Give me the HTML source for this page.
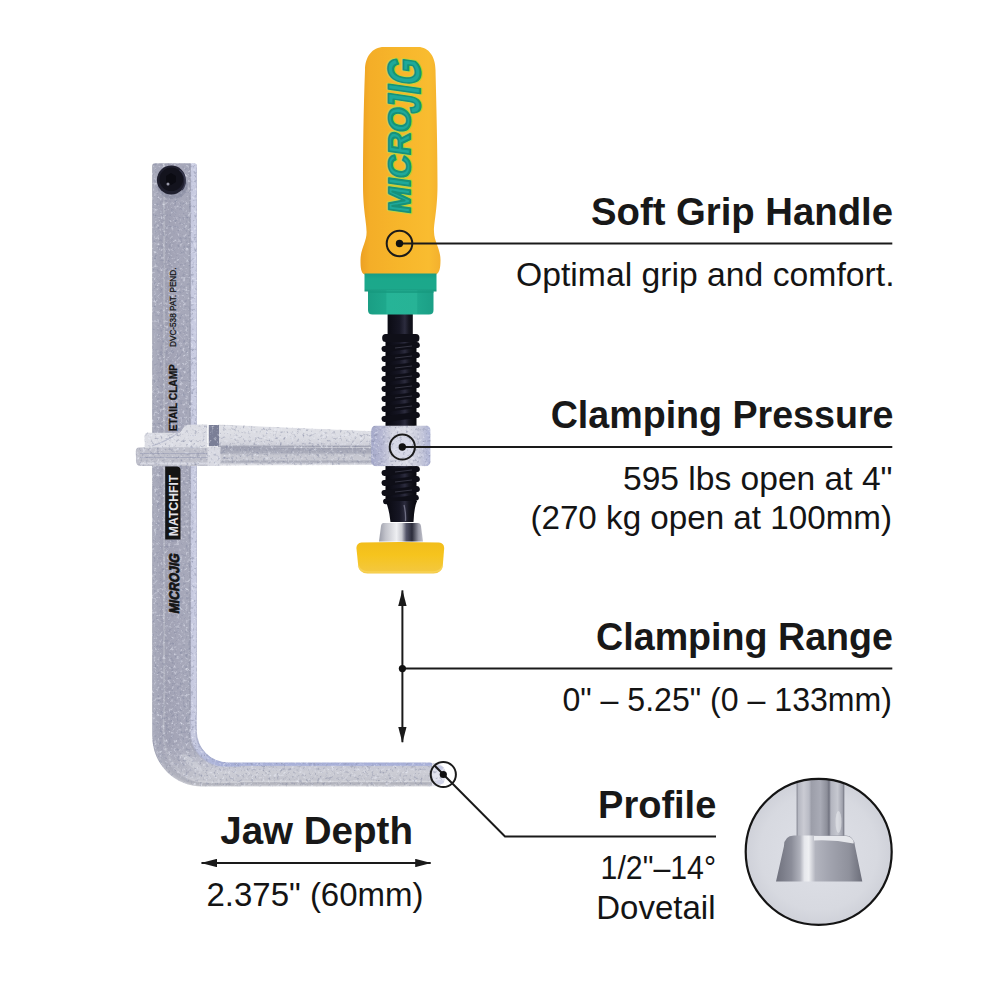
<!DOCTYPE html>
<html><head><meta charset="utf-8">
<style>
html,body{margin:0;padding:0;background:#fff;width:1000px;height:1000px;overflow:hidden}
svg{display:block}
.h{font-family:"Liberation Sans",sans-serif;font-weight:700;font-size:38px;fill:#181818}
.b{font-family:"Liberation Sans",sans-serif;font-weight:400;font-size:33px;fill:#141414}
</style></head><body>
<svg width="1000" height="1000" viewBox="0 0 1000 1000">
<defs>
  <filter id="spk" x="0" y="0" width="100%" height="100%" color-interpolation-filters="sRGB">
    <feTurbulence type="fractalNoise" baseFrequency="0.35" numOctaves="3" seed="7" result="n"/>
    <feColorMatrix in="n" type="matrix" values="0 0 0 0 0.93  0 0 0 0 0.94  0 0 0 0 0.98  2.0 0 0 0 -1.12" result="w"/>
    <feColorMatrix in="n" type="matrix" values="0 0 0 0 0.50  0 0 0 0 0.52  0 0 0 0 0.62  0 1.8 0 0 -1.0" result="d"/>
    <feMerge result="m"><feMergeNode in="SourceGraphic"/><feMergeNode in="w"/><feMergeNode in="d"/></feMerge>
    <feComposite in="m" in2="SourceGraphic" operator="in"/>
  </filter>
  <filter id="spk2" x="0" y="0" width="100%" height="100%" color-interpolation-filters="sRGB">
    <feTurbulence type="fractalNoise" baseFrequency="0.5" numOctaves="2" seed="11" result="n"/>
    <feColorMatrix in="n" type="matrix" values="0 0 0 0 0.95  0 0 0 0 0.95  0 0 0 0 0.97  1.2 0 0 0 -0.68" result="w"/>
    <feColorMatrix in="n" type="matrix" values="0 0 0 0 0.40  0 0 0 0 0.41  0 0 0 0 0.46  0 1.2 0 0 -0.68" result="d"/>
    <feMerge result="m"><feMergeNode in="SourceGraphic"/><feMergeNode in="w"/><feMergeNode in="d"/></feMerge>
    <feComposite in="m" in2="SourceGraphic" operator="in"/>
  </filter>
  <linearGradient id="barG" x1="152.3" y1="0" x2="196.8" y2="0" gradientUnits="userSpaceOnUse"><stop offset="0.0" stop-color="#8c8ea0"/><stop offset="0.03" stop-color="#acaebe"/><stop offset="0.1" stop-color="#a7a9ba"/><stop offset="0.23" stop-color="#a1a2b4"/><stop offset="0.265" stop-color="#b8bac6"/><stop offset="0.3" stop-color="#a0a1b3"/><stop offset="0.6" stop-color="#a6a7b9"/><stop offset="0.82" stop-color="#a7a9ba"/><stop offset="0.85" stop-color="#9698ab"/><stop offset="0.88" stop-color="#c6c9df"/><stop offset="0.97" stop-color="#cbcee3"/><stop offset="1.0" stop-color="#a4a8c4"/></linearGradient>
  <linearGradient id="jawG" x1="0" y1="762.5" x2="0" y2="786.5" gradientUnits="userSpaceOnUse"><stop offset="0.000" stop-color="#a5add6"/><stop offset="0.120" stop-color="#abb3da"/><stop offset="0.160" stop-color="#c6c7d3"/><stop offset="0.400" stop-color="#cccdd5"/><stop offset="0.730" stop-color="#c4c5ce"/><stop offset="0.790" stop-color="#d3d4da"/><stop offset="0.850" stop-color="#afb0ba"/><stop offset="0.920" stop-color="#babbc3"/><stop offset="1.000" stop-color="#d9d9de"/></linearGradient>
  <linearGradient id="bd0" gradientUnits="userSpaceOnUse" x1="152.86" y1="736.43" x2="202.62" y2="786.20"><stop offset="0.1" stop-color="#999bac"/><stop offset="0.9" stop-color="#d4d4da"/></linearGradient>
<linearGradient id="bd1" gradientUnits="userSpaceOnUse" x1="153.97" y1="736.29" x2="203.28" y2="785.60"><stop offset="0.1" stop-color="#abadbe"/><stop offset="0.9" stop-color="#cacbd1"/></linearGradient>
<linearGradient id="bd2" gradientUnits="userSpaceOnUse" x1="155.08" y1="736.16" x2="203.93" y2="785.00"><stop offset="0.1" stop-color="#aaacbc"/><stop offset="0.9" stop-color="#c1c2c9"/></linearGradient>
<linearGradient id="bd3" gradientUnits="userSpaceOnUse" x1="156.19" y1="736.02" x2="204.58" y2="784.40"><stop offset="0.1" stop-color="#a8aabb"/><stop offset="0.9" stop-color="#b9bac2"/></linearGradient>
<linearGradient id="bd4" gradientUnits="userSpaceOnUse" x1="157.31" y1="735.88" x2="205.23" y2="783.80"><stop offset="0.1" stop-color="#a6a8b9"/><stop offset="0.9" stop-color="#b5b6bf"/></linearGradient>
<linearGradient id="bd5" gradientUnits="userSpaceOnUse" x1="158.42" y1="735.74" x2="205.88" y2="783.20"><stop offset="0.1" stop-color="#a5a7b8"/><stop offset="0.9" stop-color="#b1b2bc"/></linearGradient>
<linearGradient id="bd6" gradientUnits="userSpaceOnUse" x1="159.53" y1="735.61" x2="206.53" y2="782.60"><stop offset="0.1" stop-color="#a4a6b7"/><stop offset="0.9" stop-color="#b6b8c1"/></linearGradient>
<linearGradient id="bd7" gradientUnits="userSpaceOnUse" x1="160.64" y1="735.47" x2="207.18" y2="782.00"><stop offset="0.1" stop-color="#a3a4b6"/><stop offset="0.9" stop-color="#c6c6ce"/></linearGradient>
<linearGradient id="bd8" gradientUnits="userSpaceOnUse" x1="161.76" y1="735.33" x2="207.83" y2="781.40"><stop offset="0.1" stop-color="#a2a3b5"/><stop offset="0.9" stop-color="#d2d3da"/></linearGradient>
<linearGradient id="bd9" gradientUnits="userSpaceOnUse" x1="162.87" y1="735.19" x2="208.48" y2="780.80"><stop offset="0.1" stop-color="#a6a7b8"/><stop offset="0.9" stop-color="#cccdd4"/></linearGradient>
<linearGradient id="bd10" gradientUnits="userSpaceOnUse" x1="163.98" y1="735.06" x2="209.12" y2="780.20"><stop offset="0.1" stop-color="#b6b8c5"/><stop offset="0.9" stop-color="#c6c7d0"/></linearGradient>
<linearGradient id="bd11" gradientUnits="userSpaceOnUse" x1="165.09" y1="734.92" x2="209.78" y2="779.60"><stop offset="0.1" stop-color="#a9aaba"/><stop offset="0.9" stop-color="#c4c5ce"/></linearGradient>
<linearGradient id="bd12" gradientUnits="userSpaceOnUse" x1="166.21" y1="734.78" x2="210.43" y2="779.00"><stop offset="0.1" stop-color="#a0a1b3"/><stop offset="0.9" stop-color="#c5c6cf"/></linearGradient>
<linearGradient id="bd13" gradientUnits="userSpaceOnUse" x1="167.32" y1="734.64" x2="211.08" y2="778.40"><stop offset="0.1" stop-color="#a1a2b4"/><stop offset="0.9" stop-color="#c6c7cf"/></linearGradient>
<linearGradient id="bd14" gradientUnits="userSpaceOnUse" x1="168.43" y1="734.51" x2="211.73" y2="777.80"><stop offset="0.1" stop-color="#a1a2b4"/><stop offset="0.9" stop-color="#c6c7d0"/></linearGradient>
<linearGradient id="bd15" gradientUnits="userSpaceOnUse" x1="169.54" y1="734.37" x2="212.38" y2="777.20"><stop offset="0.1" stop-color="#a2a3b5"/><stop offset="0.9" stop-color="#c7c8d0"/></linearGradient>
<linearGradient id="bd16" gradientUnits="userSpaceOnUse" x1="170.66" y1="734.23" x2="213.03" y2="776.60"><stop offset="0.1" stop-color="#a2a3b5"/><stop offset="0.9" stop-color="#c7c8d1"/></linearGradient>
<linearGradient id="bd17" gradientUnits="userSpaceOnUse" x1="171.77" y1="734.09" x2="213.68" y2="776.00"><stop offset="0.1" stop-color="#a3a4b6"/><stop offset="0.9" stop-color="#c8c9d2"/></linearGradient>
<linearGradient id="bd18" gradientUnits="userSpaceOnUse" x1="172.88" y1="733.96" x2="214.33" y2="775.40"><stop offset="0.1" stop-color="#a3a4b6"/><stop offset="0.9" stop-color="#c9cad2"/></linearGradient>
<linearGradient id="bd19" gradientUnits="userSpaceOnUse" x1="173.99" y1="733.82" x2="214.98" y2="774.80"><stop offset="0.1" stop-color="#a4a5b7"/><stop offset="0.9" stop-color="#c9cad3"/></linearGradient>
<linearGradient id="bd20" gradientUnits="userSpaceOnUse" x1="175.11" y1="733.68" x2="215.62" y2="774.20"><stop offset="0.1" stop-color="#a4a5b7"/><stop offset="0.9" stop-color="#cacbd3"/></linearGradient>
<linearGradient id="bd21" gradientUnits="userSpaceOnUse" x1="176.22" y1="733.54" x2="216.28" y2="773.60"><stop offset="0.1" stop-color="#a5a6b8"/><stop offset="0.9" stop-color="#cacbd4"/></linearGradient>
<linearGradient id="bd22" gradientUnits="userSpaceOnUse" x1="177.33" y1="733.41" x2="216.93" y2="773.00"><stop offset="0.1" stop-color="#a5a6b8"/><stop offset="0.9" stop-color="#cbccd4"/></linearGradient>
<linearGradient id="bd23" gradientUnits="userSpaceOnUse" x1="178.44" y1="733.27" x2="217.58" y2="772.40"><stop offset="0.1" stop-color="#a6a7b9"/><stop offset="0.9" stop-color="#cccdd5"/></linearGradient>
<linearGradient id="bd24" gradientUnits="userSpaceOnUse" x1="179.56" y1="733.13" x2="218.23" y2="771.80"><stop offset="0.1" stop-color="#a6a7b9"/><stop offset="0.9" stop-color="#cccdd5"/></linearGradient>
<linearGradient id="bd25" gradientUnits="userSpaceOnUse" x1="180.67" y1="732.99" x2="218.88" y2="771.20"><stop offset="0.1" stop-color="#a6a7b9"/><stop offset="0.9" stop-color="#cbccd5"/></linearGradient>
<linearGradient id="bd26" gradientUnits="userSpaceOnUse" x1="181.78" y1="732.86" x2="219.53" y2="770.60"><stop offset="0.1" stop-color="#a6a8b9"/><stop offset="0.9" stop-color="#cacbd4"/></linearGradient>
<linearGradient id="bd27" gradientUnits="userSpaceOnUse" x1="182.89" y1="732.72" x2="220.18" y2="770.00"><stop offset="0.1" stop-color="#a6a8b9"/><stop offset="0.9" stop-color="#cacbd4"/></linearGradient>
<linearGradient id="bd28" gradientUnits="userSpaceOnUse" x1="184.01" y1="732.58" x2="220.83" y2="769.40"><stop offset="0.1" stop-color="#a7a8ba"/><stop offset="0.9" stop-color="#c9cad4"/></linearGradient>
<linearGradient id="bd29" gradientUnits="userSpaceOnUse" x1="185.12" y1="732.44" x2="221.48" y2="768.80"><stop offset="0.1" stop-color="#a7a8ba"/><stop offset="0.9" stop-color="#c9cad4"/></linearGradient>
<linearGradient id="bd30" gradientUnits="userSpaceOnUse" x1="186.23" y1="732.31" x2="222.12" y2="768.20"><stop offset="0.1" stop-color="#a7a8ba"/><stop offset="0.9" stop-color="#c8c9d4"/></linearGradient>
<linearGradient id="bd31" gradientUnits="userSpaceOnUse" x1="187.34" y1="732.17" x2="222.78" y2="767.60"><stop offset="0.1" stop-color="#a7a9ba"/><stop offset="0.9" stop-color="#c7c8d3"/></linearGradient>
<linearGradient id="bd32" gradientUnits="userSpaceOnUse" x1="188.46" y1="732.03" x2="223.43" y2="767.00"><stop offset="0.1" stop-color="#a7a9ba"/><stop offset="0.9" stop-color="#c7c8d3"/></linearGradient>
<linearGradient id="bd33" gradientUnits="userSpaceOnUse" x1="189.57" y1="731.89" x2="224.08" y2="766.40"><stop offset="0.1" stop-color="#9d9fb1"/><stop offset="0.9" stop-color="#c6c7d3"/></linearGradient>
<linearGradient id="bd34" gradientUnits="userSpaceOnUse" x1="190.68" y1="731.76" x2="224.73" y2="765.80"><stop offset="0.1" stop-color="#aaacc1"/><stop offset="0.9" stop-color="#b7bcd7"/></linearGradient>
<linearGradient id="bd35" gradientUnits="userSpaceOnUse" x1="191.79" y1="731.62" x2="225.38" y2="765.20"><stop offset="0.1" stop-color="#c6c9df"/><stop offset="0.9" stop-color="#abb3da"/></linearGradient>
<linearGradient id="bd36" gradientUnits="userSpaceOnUse" x1="192.91" y1="731.48" x2="226.03" y2="764.60"><stop offset="0.1" stop-color="#c8cbe0"/><stop offset="0.9" stop-color="#a9b1d9"/></linearGradient>
<linearGradient id="bd37" gradientUnits="userSpaceOnUse" x1="194.02" y1="731.34" x2="226.68" y2="764.00"><stop offset="0.1" stop-color="#c9cce2"/><stop offset="0.9" stop-color="#a8b0d8"/></linearGradient>
<linearGradient id="bd38" gradientUnits="userSpaceOnUse" x1="195.13" y1="731.21" x2="227.33" y2="763.40"><stop offset="0.1" stop-color="#cbcee3"/><stop offset="0.9" stop-color="#a7afd7"/></linearGradient>
<linearGradient id="bd39" gradientUnits="userSpaceOnUse" x1="196.24" y1="731.07" x2="227.97" y2="762.80"><stop offset="0.1" stop-color="#b4b8d1"/><stop offset="0.9" stop-color="#a6aed6"/></linearGradient>

  <linearGradient id="armTop" x1="0" y1="424" x2="0" y2="447" gradientUnits="userSpaceOnUse">
    <stop offset="0" stop-color="#c4c5cf"/>
    <stop offset="0.1" stop-color="#e0e1e7"/>
    <stop offset="0.6" stop-color="#dadbe2"/>
    <stop offset="0.9" stop-color="#cfd0d9"/>
    <stop offset="1" stop-color="#989aab"/>
  </linearGradient>
  <linearGradient id="armSide" x1="0" y1="447" x2="0" y2="466" gradientUnits="userSpaceOnUse">
    <stop offset="0" stop-color="#9ea0b0"/>
    <stop offset="0.3" stop-color="#abadbb"/>
    <stop offset="0.42" stop-color="#c6c7d0"/>
    <stop offset="0.68" stop-color="#c8c9d2"/>
    <stop offset="0.74" stop-color="#a9abb8"/>
    <stop offset="0.84" stop-color="#b9bbc6"/>
    <stop offset="0.9" stop-color="#dfe0e6"/>
    <stop offset="1" stop-color="#d2d3da"/>
  </linearGradient>
  <linearGradient id="bossG" x1="371" y1="0" x2="431" y2="0" gradientUnits="userSpaceOnUse">
    <stop offset="0" stop-color="#a5a9ca"/>
    <stop offset="0.2" stop-color="#b8bad3"/>
    <stop offset="0.35" stop-color="#d3d4e0"/>
    <stop offset="0.6" stop-color="#dbdce5"/>
    <stop offset="0.8" stop-color="#c9cbdb"/>
    <stop offset="1" stop-color="#adb2d4"/>
  </linearGradient>
  <linearGradient id="yelG" x1="360" y1="0" x2="441" y2="0" gradientUnits="userSpaceOnUse">
    <stop offset="0" stop-color="#eca023"/>
    <stop offset="0.12" stop-color="#f4ae28"/>
    <stop offset="0.5" stop-color="#f7b62b"/>
    <stop offset="0.85" stop-color="#f9bc30"/>
    <stop offset="1" stop-color="#f3b02e"/>
  </linearGradient>
  <linearGradient id="grnG" x1="0" y1="273.5" x2="0" y2="291.5" gradientUnits="userSpaceOnUse">
    <stop offset="0" stop-color="#189c84"/>
    <stop offset="0.3" stop-color="#1ba88b"/>
    <stop offset="0.85" stop-color="#1ca88b"/>
    <stop offset="1" stop-color="#168f77"/>
  </linearGradient>
  <linearGradient id="grn2G" x1="368" y1="0" x2="433.5" y2="0" gradientUnits="userSpaceOnUse">
    <stop offset="0" stop-color="#1a9e84"/>
    <stop offset="0.27" stop-color="#1ea88c"/>
    <stop offset="0.29" stop-color="#26b497"/>
    <stop offset="0.74" stop-color="#27b396"/>
    <stop offset="0.76" stop-color="#1fa88d"/>
    <stop offset="1" stop-color="#1b9f86"/>
  </linearGradient>
  <linearGradient id="blkG" x1="385" y1="0" x2="417" y2="0" gradientUnits="userSpaceOnUse">
    <stop offset="0" stop-color="#08080f"/>
    <stop offset="0.45" stop-color="#161624"/>
    <stop offset="0.62" stop-color="#2c2c3e"/>
    <stop offset="0.75" stop-color="#15151f"/>
    <stop offset="1" stop-color="#07070d"/>
  </linearGradient>
  <linearGradient id="capG" x1="379" y1="0" x2="423" y2="0" gradientUnits="userSpaceOnUse">
    <stop offset="0" stop-color="#9a9ca8"/>
    <stop offset="0.15" stop-color="#c2c3cb"/>
    <stop offset="0.4" stop-color="#eeeff2"/>
    <stop offset="0.52" stop-color="#c8c9d0"/>
    <stop offset="0.62" stop-color="#55566a"/>
    <stop offset="0.75" stop-color="#2b2c3a"/>
    <stop offset="0.9" stop-color="#9c9daa"/>
    <stop offset="1" stop-color="#c0c1ca"/>
  </linearGradient>
  <linearGradient id="padG" x1="0" y1="542" x2="0" y2="574" gradientUnits="userSpaceOnUse">
    <stop offset="0" stop-color="#f2bd1b"/>
    <stop offset="0.4" stop-color="#f6c41d"/>
    <stop offset="1" stop-color="#f3c843"/>
  </linearGradient>
  <radialGradient id="inG" cx="818.7" cy="851.8" r="73" gradientUnits="userSpaceOnUse">
    <stop offset="0" stop-color="#dfe1e8"/>
    <stop offset="0.8" stop-color="#d7d9e0"/>
    <stop offset="1" stop-color="#cfd1d9"/>
  </radialGradient>
  <linearGradient id="stemG" x1="796.6" y1="0" x2="844.3" y2="0" gradientUnits="userSpaceOnUse">
    <stop offset="0" stop-color="#7f818d"/>
    <stop offset="0.04" stop-color="#b5b7c1"/>
    <stop offset="0.15" stop-color="#cacbd3"/>
    <stop offset="0.26" stop-color="#b9bbc5"/>
    <stop offset="0.31" stop-color="#9c9ea9"/>
    <stop offset="0.5" stop-color="#a9abb6"/>
    <stop offset="0.64" stop-color="#8c8e99"/>
    <stop offset="0.68" stop-color="#6f717e"/>
    <stop offset="0.72" stop-color="#b3b5bf"/>
    <stop offset="0.86" stop-color="#c6c8d0"/>
    <stop offset="0.96" stop-color="#a0a2ad"/>
    <stop offset="1" stop-color="#6e707c"/>
  </linearGradient>
  <linearGradient id="baseG" x1="776" y1="0" x2="862" y2="0" gradientUnits="userSpaceOnUse">
    <stop offset="0" stop-color="#6f717d"/>
    <stop offset="0.18" stop-color="#8b8d99"/>
    <stop offset="0.28" stop-color="#b0b2bc"/>
    <stop offset="0.33" stop-color="#e6e7ec"/>
    <stop offset="0.38" stop-color="#eff0f3"/>
    <stop offset="0.46" stop-color="#b2b4be"/>
    <stop offset="0.62" stop-color="#a2a4af"/>
    <stop offset="0.85" stop-color="#8f919c"/>
    <stop offset="1" stop-color="#6c6e7a"/>
  </linearGradient>
  <clipPath id="inClip"><circle cx="818.7" cy="851.8" r="72.8"/></clipPath>
  <marker id="ah" viewBox="0 0 16 8.4" refX="15.5" refY="4.2" markerWidth="16" markerHeight="8.4" markerUnits="userSpaceOnUse" orient="auto-start-reverse">
    <path d="M0,0 L16,4.2 L0,8.4 z" fill="#1a1a1a"/>
  </marker>
</defs>

<!-- CLAMP_BODY -->
<clipPath id="Lclip"><path d="M152.3,166 Q152.3,163.3 155,163.3 L194.3,163.3 Q196.8,163.3 196.8,166 L196.8,731 A31.5,31.5 0 0 0 228.3,762.5 L430,762.5 Q434.5,763 434.5,768 L434.5,781.5 Q434.5,786.5 430,786.5 L202.5,786.5 A50,50 0 0 1 152.3,736.5 Z"/></clipPath>
<g clip-path="url(#Lclip)" filter="url(#spk)">
  <rect x="150" y="160" width="50" height="630" fill="#b4b6c0"/>
  <rect x="152" y="163" width="45" height="560" fill="url(#barG)"/>
  <rect x="236" y="762" width="200" height="26" fill="url(#jawG)"/>
<path d="M152.86,715 L152.86,736.43 A49.77,49.77 0 0 0 202.62,786.20 L240,786.20" stroke="url(#bd0)" stroke-width="2.11" fill="none"/>
<path d="M153.97,715 L153.97,736.29 A49.31,49.31 0 0 0 203.28,785.60 L240,785.60" stroke="url(#bd1)" stroke-width="2.11" fill="none"/>
<path d="M155.08,715 L155.08,736.16 A48.84,48.84 0 0 0 203.93,785.00 L240,785.00" stroke="url(#bd2)" stroke-width="2.11" fill="none"/>
<path d="M156.19,715 L156.19,736.02 A48.38,48.38 0 0 0 204.58,784.40 L240,784.40" stroke="url(#bd3)" stroke-width="2.11" fill="none"/>
<path d="M157.31,715 L157.31,735.88 A47.92,47.92 0 0 0 205.23,783.80 L240,783.80" stroke="url(#bd4)" stroke-width="2.11" fill="none"/>
<path d="M158.42,715 L158.42,735.74 A47.46,47.46 0 0 0 205.88,783.20 L240,783.20" stroke="url(#bd5)" stroke-width="2.11" fill="none"/>
<path d="M159.53,715 L159.53,735.61 A46.99,46.99 0 0 0 206.53,782.60 L240,782.60" stroke="url(#bd6)" stroke-width="2.11" fill="none"/>
<path d="M160.64,715 L160.64,735.47 A46.53,46.53 0 0 0 207.18,782.00 L240,782.00" stroke="url(#bd7)" stroke-width="2.11" fill="none"/>
<path d="M161.76,715 L161.76,735.33 A46.07,46.07 0 0 0 207.83,781.40 L240,781.40" stroke="url(#bd8)" stroke-width="2.11" fill="none"/>
<path d="M162.87,715 L162.87,735.19 A45.61,45.61 0 0 0 208.48,780.80 L240,780.80" stroke="url(#bd9)" stroke-width="2.11" fill="none"/>
<path d="M163.98,715 L163.98,735.06 A45.14,45.14 0 0 0 209.12,780.20 L240,780.20" stroke="url(#bd10)" stroke-width="2.11" fill="none"/>
<path d="M165.09,715 L165.09,734.92 A44.68,44.68 0 0 0 209.78,779.60 L240,779.60" stroke="url(#bd11)" stroke-width="2.11" fill="none"/>
<path d="M166.21,715 L166.21,734.78 A44.22,44.22 0 0 0 210.43,779.00 L240,779.00" stroke="url(#bd12)" stroke-width="2.11" fill="none"/>
<path d="M167.32,715 L167.32,734.64 A43.76,43.76 0 0 0 211.08,778.40 L240,778.40" stroke="url(#bd13)" stroke-width="2.11" fill="none"/>
<path d="M168.43,715 L168.43,734.51 A43.29,43.29 0 0 0 211.73,777.80 L240,777.80" stroke="url(#bd14)" stroke-width="2.11" fill="none"/>
<path d="M169.54,715 L169.54,734.37 A42.83,42.83 0 0 0 212.38,777.20 L240,777.20" stroke="url(#bd15)" stroke-width="2.11" fill="none"/>
<path d="M170.66,715 L170.66,734.23 A42.37,42.37 0 0 0 213.03,776.60 L240,776.60" stroke="url(#bd16)" stroke-width="2.11" fill="none"/>
<path d="M171.77,715 L171.77,734.09 A41.91,41.91 0 0 0 213.68,776.00 L240,776.00" stroke="url(#bd17)" stroke-width="2.11" fill="none"/>
<path d="M172.88,715 L172.88,733.96 A41.44,41.44 0 0 0 214.33,775.40 L240,775.40" stroke="url(#bd18)" stroke-width="2.11" fill="none"/>
<path d="M173.99,715 L173.99,733.82 A40.98,40.98 0 0 0 214.98,774.80 L240,774.80" stroke="url(#bd19)" stroke-width="2.11" fill="none"/>
<path d="M175.11,715 L175.11,733.68 A40.52,40.52 0 0 0 215.62,774.20 L240,774.20" stroke="url(#bd20)" stroke-width="2.11" fill="none"/>
<path d="M176.22,715 L176.22,733.54 A40.06,40.06 0 0 0 216.28,773.60 L240,773.60" stroke="url(#bd21)" stroke-width="2.11" fill="none"/>
<path d="M177.33,715 L177.33,733.41 A39.59,39.59 0 0 0 216.93,773.00 L240,773.00" stroke="url(#bd22)" stroke-width="2.11" fill="none"/>
<path d="M178.44,715 L178.44,733.27 A39.13,39.13 0 0 0 217.58,772.40 L240,772.40" stroke="url(#bd23)" stroke-width="2.11" fill="none"/>
<path d="M179.56,715 L179.56,733.13 A38.67,38.67 0 0 0 218.23,771.80 L240,771.80" stroke="url(#bd24)" stroke-width="2.11" fill="none"/>
<path d="M180.67,715 L180.67,732.99 A38.21,38.21 0 0 0 218.88,771.20 L240,771.20" stroke="url(#bd25)" stroke-width="2.11" fill="none"/>
<path d="M181.78,715 L181.78,732.86 A37.74,37.74 0 0 0 219.53,770.60 L240,770.60" stroke="url(#bd26)" stroke-width="2.11" fill="none"/>
<path d="M182.89,715 L182.89,732.72 A37.28,37.28 0 0 0 220.18,770.00 L240,770.00" stroke="url(#bd27)" stroke-width="2.11" fill="none"/>
<path d="M184.01,715 L184.01,732.58 A36.82,36.82 0 0 0 220.83,769.40 L240,769.40" stroke="url(#bd28)" stroke-width="2.11" fill="none"/>
<path d="M185.12,715 L185.12,732.44 A36.36,36.36 0 0 0 221.48,768.80 L240,768.80" stroke="url(#bd29)" stroke-width="2.11" fill="none"/>
<path d="M186.23,715 L186.23,732.31 A35.89,35.89 0 0 0 222.12,768.20 L240,768.20" stroke="url(#bd30)" stroke-width="2.11" fill="none"/>
<path d="M187.34,715 L187.34,732.17 A35.43,35.43 0 0 0 222.78,767.60 L240,767.60" stroke="url(#bd31)" stroke-width="2.11" fill="none"/>
<path d="M188.46,715 L188.46,732.03 A34.97,34.97 0 0 0 223.43,767.00 L240,767.00" stroke="url(#bd32)" stroke-width="2.11" fill="none"/>
<path d="M189.57,715 L189.57,731.89 A34.51,34.51 0 0 0 224.08,766.40 L240,766.40" stroke="url(#bd33)" stroke-width="2.11" fill="none"/>
<path d="M190.68,715 L190.68,731.76 A34.04,34.04 0 0 0 224.73,765.80 L240,765.80" stroke="url(#bd34)" stroke-width="2.11" fill="none"/>
<path d="M191.79,715 L191.79,731.62 A33.58,33.58 0 0 0 225.38,765.20 L240,765.20" stroke="url(#bd35)" stroke-width="2.11" fill="none"/>
<path d="M192.91,715 L192.91,731.48 A33.12,33.12 0 0 0 226.03,764.60 L240,764.60" stroke="url(#bd36)" stroke-width="2.11" fill="none"/>
<path d="M194.02,715 L194.02,731.34 A32.66,32.66 0 0 0 226.68,764.00 L240,764.00" stroke="url(#bd37)" stroke-width="2.11" fill="none"/>
<path d="M195.13,715 L195.13,731.21 A32.19,32.19 0 0 0 227.33,763.40 L240,763.40" stroke="url(#bd38)" stroke-width="2.11" fill="none"/>
<path d="M196.24,715 L196.24,731.07 A31.73,31.73 0 0 0 227.97,762.80 L240,762.80" stroke="url(#bd39)" stroke-width="2.11" fill="none"/>

  <ellipse cx="192" cy="763" rx="13" ry="3.5" transform="rotate(40 192 763)" fill="#d9dce2" opacity="0.45"/>
</g>
<path d="M432,762.8 Q440,763 443.5,767 Q446.5,771 446,776 Q445.5,782 440.5,785.2 Q437,786.5 432,786.5 Z" fill="#e2e3ed" filter="url(#spk)"/>
<ellipse cx="439" cy="768" rx="4" ry="2.5" fill="#c2c5e2" opacity="0.8"/><ellipse cx="440" cy="782" rx="4" ry="2" fill="#cdd0e6" opacity="0.8"/>
<!-- bolt -->
<ellipse cx="172.5" cy="186" rx="15" ry="13" fill="#7d8096" opacity="0.45"/>
<circle cx="171.3" cy="180" r="14.4" fill="#1f1f2e"/>
<circle cx="171.3" cy="179.3" r="11.8" fill="#13131d"/>
<path d="M166,176 L171,173 L176,176 L176,182 L171,185 L166,182 Z" fill="#0b0b12"/>
<circle cx="168" cy="184" r="1.5" fill="#9a9aaa"/>
<path d="M179.5,170 A14,14 0 0 1 182,190" stroke="#3a3b50" stroke-width="1.4" fill="none"/>
<!-- bar texts -->
<g font-family="Liberation Sans" fill="#141414">
  <text transform="translate(176.4,347) rotate(-90)" font-size="8.8" stroke="#141414" stroke-width="0.25" textLength="79.5" lengthAdjust="spacingAndGlyphs">DVC-538 PAT. PEND.</text>
  <text transform="translate(176.6,431.2) rotate(-90)" font-size="10.6" font-weight="700" stroke="#141414" stroke-width="0.3" textLength="67" lengthAdjust="spacingAndGlyphs">ETAIL CLAMP</text>
  <path d="M165.2,466.4 L177.5,466.4 Q180.5,467 180.5,470 L180.5,539.4 L165.2,539.4 Z" fill="#141414"/>
  <text transform="translate(177.9,536.2) rotate(-90)" font-size="13" font-weight="700" fill="#e4e4ea" textLength="61.5" lengthAdjust="spacingAndGlyphs">MATCHFIT</text>
  <text transform="translate(178.6,614) rotate(-90) skewX(-10)" font-size="14" font-weight="700" stroke="#141414" stroke-width="0.8" stroke-linejoin="round" textLength="60" lengthAdjust="spacingAndGlyphs">MICROJIG</text>
</g>

<!-- SCREW -->
<rect x="387.6" y="305" width="25.2" height="33" fill="url(#blkG)"/>
<rect x="385.5" y="338" width="31" height="92" fill="url(#blkG)"/>
<rect x="382.2" y="334" width="37.2" height="8" rx="3.5" fill="#0f0f18"/>
<g fill="#0e0e17">
<rect x="381.4" y="344" width="38.6" height="6" rx="3" transform="rotate(-7 400.7 347)"/><rect x="381.4" y="354" width="38.6" height="6" rx="3" transform="rotate(-7 400.7 357)"/><rect x="381.4" y="364" width="38.6" height="6" rx="3" transform="rotate(-7 400.7 367)"/><rect x="381.4" y="374" width="38.6" height="6" rx="3" transform="rotate(-7 400.7 377)"/><rect x="381.4" y="384" width="38.6" height="6" rx="3" transform="rotate(-7 400.7 387)"/><rect x="381.4" y="394" width="38.6" height="6" rx="3" transform="rotate(-7 400.7 397)"/><rect x="381.4" y="404" width="38.6" height="6" rx="3" transform="rotate(-7 400.7 407)"/><rect x="381.4" y="414" width="38.6" height="6" rx="3" transform="rotate(-7 400.7 417)"/>
</g>
<g stroke="#4a4a5c" stroke-width="0.8" fill="none" opacity="0.8">
<path d="M395,348 L412,346"/><path d="M395,358 L412,356"/><path d="M395,368 L412,366"/><path d="M395,378 L412,376"/><path d="M395,388 L412,386"/><path d="M395,398 L412,396"/><path d="M395,408 L412,406"/>
</g>
<!-- lower screw -->
<rect x="385.5" y="462" width="31" height="40" fill="url(#blkG)"/>
<g fill="#0e0e17">
<rect x="381.4" y="468" width="38.6" height="6" rx="3" transform="rotate(-7 400.7 471)"/><rect x="381.4" y="478" width="38.6" height="6" rx="3" transform="rotate(-7 400.7 481)"/><rect x="381.4" y="488" width="38.6" height="6" rx="3" transform="rotate(-7 400.7 491)"/><rect x="383" y="497" width="36" height="5.5" rx="2.7" transform="rotate(-7 400.7 500)"/>
</g>
<g stroke="#4a4a5c" stroke-width="0.8" fill="none" opacity="0.8">
<path d="M395,472 L412,470"/><path d="M395,482 L412,480"/><path d="M395,492 L412,490"/>
</g>
<path d="M385.5,501 L417,501 Q414,508 413.5,522 L390.5,522 Q389,508 385.5,501 Z" fill="url(#blkG)"/>
<path d="M404,505 Q406,513 405.5,521" stroke="#8a8aa0" stroke-width="1.3" fill="none" opacity="0.7"/>
<!-- silver cap -->
<path d="M383.5,523 L418,523 Q420.5,523 421,526 L423,541.5 L379,541.5 L381,526 Q381.5,523 383.5,523 Z" fill="url(#capG)"/>
<!-- yellow pad -->
<path d="M356.4,548 Q356.6,543.2 361.5,542.6 Q400,541.6 439,542.6 Q444,543.2 444.2,548 L442.8,565.5 Q441.8,573.3 433.5,573.5 L367.5,573.5 Q359.2,573.3 358.2,565.5 Z" fill="url(#padG)"/>
<path d="M358.5,566 Q360,571.5 368,572 L433,572 Q441,571.5 442.5,566" stroke="#f8d660" stroke-width="1.6" fill="none" opacity="0.7"/>
<!-- ARM -->
<g filter="url(#spk)">
  <path d="M218,424.5 L372,431 L372,447.5 L218,447 Z" fill="url(#armTop)"/>
  <path d="M218,447 L372,447.5 L372,465 L218,465.8 Z" fill="url(#armSide)"/>
  <path d="M139,447.2 L220,447.2 L220,466 L140,466 Q136.3,466 136,462 L135.6,451 Q135.8,447.2 139,447.2 Z" fill="#bfc0cb"/>
  <path d="M140,453.5 L219,453.5 M140,457.5 L219,457.5" stroke="#a7aabd" stroke-width="1.1"/>
  <path d="M140,463.5 L219,463.5" stroke="#d9dae4" stroke-width="2"/>
  <path d="M144.5,447.5 L144.5,435 Q144.8,432.5 147.5,432.5 L179,432.5 C182,432.5 183,424.8 187.5,424.5 L207.5,424.3 L207.5,447.5 Z" fill="#dcdde4"/>
  <path d="M152,446 Q170,440 180,431" stroke="#b9bccd" stroke-width="1.2" fill="none"/>
  <rect x="208.5" y="425" width="10.5" height="21.5" fill="#7a7e96"/>
  <rect x="207.5" y="447" width="13" height="19" fill="#d9dae2"/>
  <rect x="371.2" y="425.4" width="59.4" height="40.8" rx="4.5" fill="url(#bossG)"/>
  <circle cx="402.3" cy="447" r="11" fill="#d6d8e6"/>
</g>

<!-- HANDLE -->
<path d="M384,47 L418,47 C429,47 435.5,57 435.5,70 C436.5,110 437.5,150 437.5,185 C437.5,210 433.8,222 434,232 C434.3,242 440.5,249 440.5,260 C440.5,268 439.5,273 436,274.5 L364.5,274.5 C361,273 360.5,268 360.5,260 C360.5,249 366.6,242 366.6,232 C366.6,222 363,210 363,185 C363,150 363.5,110 365,70 C365,57 372,47 384,47 Z" fill="url(#yelG)"/>
<path d="M364.5,273.5 L436.5,273.5 L436.5,291.5 L364.5,291.5 Z" fill="url(#grnG)"/>
<path d="M368,290.5 L433.5,290.5 L433.5,310 Q433.5,314.5 429,314.5 L372.5,314.5 Q368,314.5 368,310 Z" fill="url(#grn2G)"/>
<path d="M368,292 L433.5,292" stroke="#179a7f" stroke-width="1.5"/>
<g font-family="Liberation Sans" font-weight="700" fill="#1ea99a" stroke-linejoin="round">
  <g stroke="#bcd43e" stroke-width="3.8">
    <text transform="translate(409.6,214.5) rotate(-90) skewX(-8)" font-size="31" textLength="106" lengthAdjust="spacingAndGlyphs">MICRO</text>
    <text transform="translate(420.2,114.5) rotate(-90) skewX(-8)" font-size="46" textLength="54.5" lengthAdjust="spacingAndGlyphs">JIG</text>
  </g>
  <g stroke="#16917b" stroke-width="1.9">
    <text transform="translate(409.6,214.5) rotate(-90) skewX(-8)" font-size="31" textLength="106" lengthAdjust="spacingAndGlyphs">MICRO</text>
    <text transform="translate(420.2,114.5) rotate(-90) skewX(-8)" font-size="46" textLength="54.5" lengthAdjust="spacingAndGlyphs">JIG</text>
  </g>
</g>

<!-- INSET -->
<circle cx="818.7" cy="851.8" r="73" fill="url(#inG)"/>
<g clip-path="url(#inClip)">
  <rect x="796.6" y="770" width="47.7" height="70" fill="url(#stemG)"/>
  <path d="M784,846 Q784,836 794,835.5 L846,835.5 Q854,836 855,846 L862.3,881.5 L776,881.5 Z" fill="url(#baseG)"/>
  <path d="M814,836 L846,836 Q852,836.5 853.8,842 L853.5,843.5 Q834,839.5 814,840.5 Z" fill="#eef0f3" opacity="0.9"/>
  <ellipse cx="838.5" cy="822" rx="3" ry="11" fill="#e9ebef" opacity="0.55"/>
</g>
<circle cx="818.7" cy="851.8" r="73" fill="none" stroke="#141414" stroke-width="2.2"/>

<!-- ANNOT -->
<g stroke="#1a1a1a" stroke-width="2" fill="none">
  <line x1="399.5" y1="243.5" x2="892.3" y2="243.5"/>
  <circle cx="399.5" cy="243.5" r="12.8"/>
  <line x1="402.3" y1="447" x2="892.3" y2="447"/>
  <circle cx="402.3" cy="447" r="12.6"/>
  <line x1="402.4" y1="668.6" x2="892.3" y2="668.6"/>
  <line x1="402.4" y1="668.6" x2="402.4" y2="590.4" marker-end="url(#ah)"/>
  <line x1="402.4" y1="668.6" x2="402.4" y2="742.2" marker-end="url(#ah)"/>
  <circle cx="443.3" cy="774.5" r="12.6"/>
  <polyline points="434.5,765.5 505,836.5 716,836.5"/>
  <line x1="201.5" y1="863" x2="430.7" y2="863" marker-start="url(#ah)" marker-end="url(#ah)"/>
</g>
<g fill="#111">
  <circle cx="399.5" cy="243.5" r="3.7"/>
  <circle cx="402.3" cy="447" r="3.7"/>
  <circle cx="402.4" cy="668.6" r="3.6"/>
  <circle cx="443.3" cy="774.5" r="3.6"/>
</g>

<!-- TEXT -->
<g text-anchor="end">
  <text class="h" x="893" y="225" textLength="302" lengthAdjust="spacingAndGlyphs">Soft Grip Handle</text>
  <text class="b" x="894.5" y="286" textLength="378.5" lengthAdjust="spacingAndGlyphs">Optimal grip and comfort.</text>
  <text class="h" x="893.5" y="428.2" textLength="342.8" lengthAdjust="spacingAndGlyphs">Clamping Pressure</text>
  <text class="b" x="892.5" y="489.5" textLength="269.5" lengthAdjust="spacingAndGlyphs">595 lbs open at 4"</text>
  <text class="b" x="892" y="529" textLength="361.6" lengthAdjust="spacingAndGlyphs">(270 kg open at 100mm)</text>
  <text class="h" x="893" y="650" textLength="296.9" lengthAdjust="spacingAndGlyphs">Clamping Range</text>
  <text class="b" x="892" y="710.6" textLength="329.6" lengthAdjust="spacingAndGlyphs">0" – 5.25" (0 – 133mm)</text>
  <text class="h" x="716.3" y="818">Profile</text>
  <text class="b" x="716" y="879.3" textLength="115.4" lengthAdjust="spacingAndGlyphs">1/2"–14°</text>
  <text class="b" x="715.5" y="918.8">Dovetail</text>
</g>
<g text-anchor="middle">
  <text class="h" x="316.6" y="843.8" textLength="192.8" lengthAdjust="spacingAndGlyphs">Jaw Depth</text>
  <text class="b" x="315" y="906">2.375" (60mm)</text>
</g>
</svg>
</body></html>
